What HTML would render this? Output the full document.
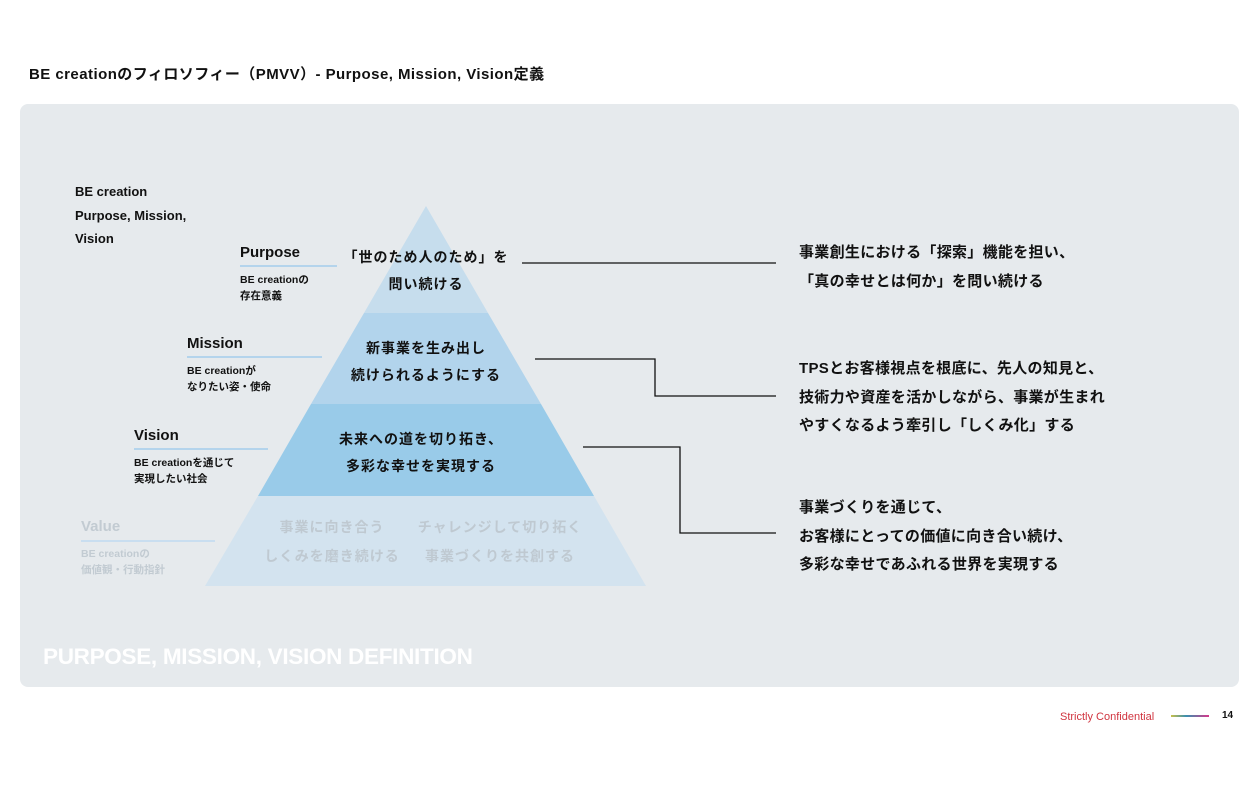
<!DOCTYPE html>
<html><head><meta charset="utf-8"><style>
body{margin:0;width:1260px;height:792px;background:#fff;position:relative;overflow:hidden;font-family:"Liberation Sans","Noto Sans CJK JP",sans-serif;font-weight:bold;color:#111}
.t{position:absolute;white-space:nowrap;line-height:1}
.panel{position:absolute;left:20px;top:104px;width:1219px;height:583px;background:#e6eaed;border-radius:8px}
</style></head><body>
<div class="t" style="left:29px;top:67px;font-size:15px;letter-spacing:0.45px">BE creationのフィロソフィー（PMVV）- Purpose, Mission, Vision定義</div>
<div class="panel"></div>
<svg style="position:absolute;left:0;top:0" width="1260" height="792">
<polygon points="426,206 488,313 364,313" fill="#c6dded"/>
<polygon points="364,313 488,313 541,404 311,404" fill="#b2d4ec"/>
<polygon points="311,404 541,404 594,496 258,496" fill="#99cbe9"/>
<polygon points="258,496 594,496 646,586 205,586" fill="#d3e3ef"/>
<g stroke="#b4d4ec" stroke-width="2">
<line x1="240" y1="266" x2="337" y2="266"/><line x1="187" y1="357" x2="322" y2="357"/>
<line x1="134" y1="449" x2="268" y2="449"/><line x1="81" y1="541" x2="215" y2="541" stroke="#c9def0"/>
</g>
<g stroke="#111" stroke-width="1.3" fill="none">
<polyline points="522,263 776,263"/>
<polyline points="535,359 655,359 655,396 776,396"/>
<polyline points="583,447 680,447 680,533 776,533"/>
</g>
<defs><linearGradient id="g"><stop offset="0" stop-color="#c8c04a"/><stop offset=".4" stop-color="#3a8fb0"/><stop offset="1" stop-color="#d6378a"/></linearGradient></defs>
<rect x="1171" y="715" width="38" height="2" fill="url(#g)"/>
</svg>
<div class="t" style="left:75px;top:180px;font-size:13px;line-height:23.5px">BE creation<br>Purpose, Mission,<br>Vision</div>
<div class="t" style="left:240px;top:245px;font-size:15px">Purpose</div>
<div class="t" style="left:240px;top:272px;font-size:10.5px;line-height:16px">BE creationの<br>存在意義</div>
<div class="t" style="left:187px;top:336px;font-size:15px">Mission</div>
<div class="t" style="left:187px;top:363px;font-size:10.5px;line-height:16px">BE creationが<br>なりたい姿・使命</div>
<div class="t" style="left:134px;top:428px;font-size:15px">Vision</div>
<div class="t" style="left:134px;top:455px;font-size:10.5px;line-height:16px">BE creationを通じて<br>実現したい社会</div>
<div class="t" style="left:81px;top:519px;font-size:15px;color:#c2cbd2">Value</div>
<div class="t" style="left:81px;top:546px;font-size:10.5px;line-height:16px;color:#c2cbd2">BE creationの<br>価値観・行動指針</div>
<div class="t" style="left:326px;top:244px;width:200px;text-align:center;font-size:14px;line-height:27px;letter-spacing:1px">「世のため人のため」を<br>問い続ける</div>
<div class="t" style="left:326px;top:335px;width:200px;text-align:center;font-size:14px;line-height:27px;letter-spacing:1px">新事業を生み出し<br>続けられるようにする</div>
<div class="t" style="left:321px;top:426px;width:200px;text-align:center;font-size:14px;line-height:27px;letter-spacing:1px">未来への道を切り拓き、<br>多彩な幸せを実現する</div>
<div class="t" style="left:262px;top:513px;width:140px;text-align:center;font-size:14px;line-height:29px;letter-spacing:1px;color:#bfc9d1">事業に向き合う<br>しくみを磨き続ける</div>
<div class="t" style="left:410px;top:513px;width:180px;text-align:center;font-size:14px;line-height:29px;letter-spacing:1px;color:#bfc9d1">チャレンジして切り拓く<br>事業づくりを共創する</div>
<div class="t" style="left:799px;top:239px;font-size:15px;line-height:28.5px;letter-spacing:0.3px">事業創生における「探索」機能を担い、<br>「真の幸せとは何か」を問い続ける</div>
<div class="t" style="left:799px;top:355px;font-size:15px;line-height:28.5px;letter-spacing:0.3px">TPSとお客様視点を根底に、先人の知見と、<br>技術力や資産を活かしながら、事業が生まれ<br>やすくなるよう牽引し「しくみ化」する</div>
<div class="t" style="left:799px;top:494px;font-size:15px;line-height:28.5px;letter-spacing:0.3px">事業づくりを通じて、<br>お客様にとっての価値に向き合い続け、<br>多彩な幸せであふれる世界を実現する</div>
<div class="t" style="left:43px;top:646px;font-size:22.5px;color:#fff;letter-spacing:-0.3px">PURPOSE, MISSION, VISION DEFINITION</div>
<div class="t" style="left:1060px;top:712px;font-size:11px;font-weight:normal;color:#d0343f">Strictly Confidential</div>
<div class="t" style="left:1222px;top:711px;font-size:10px">14</div>
</body></html>
